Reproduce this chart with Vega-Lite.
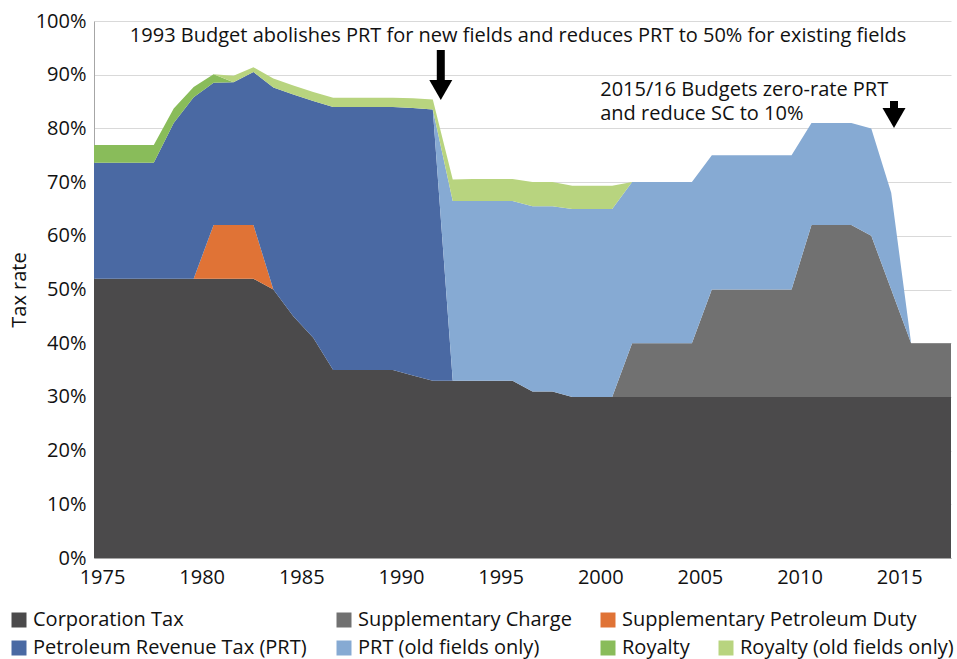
{
  "$schema": "https://vega.github.io/schema/vega-lite/v6.json",
  "width": 857,
  "height": 537,
  "autosize": {"type": "none"},
  "padding": {"left": 94, "top": 21, "right": 6, "bottom": 101},
  "background": "white",
  "config": {
    "font": "Open Sans",
    "view": {"stroke": null},
    "axis": {"labelFont": "Open Sans", "titleFont": "Open Sans", "labelColor": "#111111", "titleColor": "#111111"},
    "legend": {
      "symbolType": "square",
      "symbolSize": 225,
      "symbolStrokeWidth": 0,
      "labelFontSize": 20,
      "labelFont": "Open Sans",
      "labelColor": "#111111",
      "labelOffset": 4,
      "padding": 0,
      "labelLimit": 400
    }
  },
  "datasets": {
    "rates": [
      {"year": 1975, "Corporation Tax": 52, "Supplementary Charge": 0, "Supplementary Petroleum Duty": 0, "Petroleum Revenue Tax (PRT)": 21.6, "PRT (old fields only)": 0, "Royalty": 3.3, "Royalty (old fields only)": 0},
      {"year": 1976, "Corporation Tax": 52, "Supplementary Charge": 0, "Supplementary Petroleum Duty": 0, "Petroleum Revenue Tax (PRT)": 21.6, "PRT (old fields only)": 0, "Royalty": 3.3, "Royalty (old fields only)": 0},
      {"year": 1977, "Corporation Tax": 52, "Supplementary Charge": 0, "Supplementary Petroleum Duty": 0, "Petroleum Revenue Tax (PRT)": 21.6, "PRT (old fields only)": 0, "Royalty": 3.3, "Royalty (old fields only)": 0},
      {"year": 1978, "Corporation Tax": 52, "Supplementary Charge": 0, "Supplementary Petroleum Duty": 0, "Petroleum Revenue Tax (PRT)": 21.6, "PRT (old fields only)": 0, "Royalty": 3.3, "Royalty (old fields only)": 0},
      {"year": 1979, "Corporation Tax": 52, "Supplementary Charge": 0, "Supplementary Petroleum Duty": 0, "Petroleum Revenue Tax (PRT)": 29.0, "PRT (old fields only)": 0, "Royalty": 2.7, "Royalty (old fields only)": 0},
      {"year": 1980, "Corporation Tax": 52, "Supplementary Charge": 0, "Supplementary Petroleum Duty": 0, "Petroleum Revenue Tax (PRT)": 33.8, "PRT (old fields only)": 0, "Royalty": 1.9, "Royalty (old fields only)": 0},
      {"year": 1981, "Corporation Tax": 52, "Supplementary Charge": 0, "Supplementary Petroleum Duty": 10, "Petroleum Revenue Tax (PRT)": 26.5, "PRT (old fields only)": 0, "Royalty": 1.6, "Royalty (old fields only)": 0},
      {"year": 1982, "Corporation Tax": 52, "Supplementary Charge": 0, "Supplementary Petroleum Duty": 10, "Petroleum Revenue Tax (PRT)": 26.6, "PRT (old fields only)": 0, "Royalty": 0, "Royalty (old fields only)": 1.2},
      {"year": 1983, "Corporation Tax": 52, "Supplementary Charge": 0, "Supplementary Petroleum Duty": 10, "Petroleum Revenue Tax (PRT)": 28.5, "PRT (old fields only)": 0, "Royalty": 0, "Royalty (old fields only)": 0.9},
      {"year": 1984, "Corporation Tax": 50, "Supplementary Charge": 0, "Supplementary Petroleum Duty": 0, "Petroleum Revenue Tax (PRT)": 37.6, "PRT (old fields only)": 0, "Royalty": 0, "Royalty (old fields only)": 1.7},
      {"year": 1985, "Corporation Tax": 45, "Supplementary Charge": 0, "Supplementary Petroleum Duty": 0, "Petroleum Revenue Tax (PRT)": 41.3, "PRT (old fields only)": 0, "Royalty": 0, "Royalty (old fields only)": 1.7},
      {"year": 1986, "Corporation Tax": 41, "Supplementary Charge": 0, "Supplementary Petroleum Duty": 0, "Petroleum Revenue Tax (PRT)": 44.1, "PRT (old fields only)": 0, "Royalty": 0, "Royalty (old fields only)": 1.7},
      {"year": 1987, "Corporation Tax": 35, "Supplementary Charge": 0, "Supplementary Petroleum Duty": 0, "Petroleum Revenue Tax (PRT)": 49, "PRT (old fields only)": 0, "Royalty": 0, "Royalty (old fields only)": 1.7},
      {"year": 1988, "Corporation Tax": 35, "Supplementary Charge": 0, "Supplementary Petroleum Duty": 0, "Petroleum Revenue Tax (PRT)": 49, "PRT (old fields only)": 0, "Royalty": 0, "Royalty (old fields only)": 1.7},
      {"year": 1989, "Corporation Tax": 35, "Supplementary Charge": 0, "Supplementary Petroleum Duty": 0, "Petroleum Revenue Tax (PRT)": 49, "PRT (old fields only)": 0, "Royalty": 0, "Royalty (old fields only)": 1.7},
      {"year": 1990, "Corporation Tax": 35, "Supplementary Charge": 0, "Supplementary Petroleum Duty": 0, "Petroleum Revenue Tax (PRT)": 49, "PRT (old fields only)": 0, "Royalty": 0, "Royalty (old fields only)": 1.7},
      {"year": 1991, "Corporation Tax": 34, "Supplementary Charge": 0, "Supplementary Petroleum Duty": 0, "Petroleum Revenue Tax (PRT)": 49.8, "PRT (old fields only)": 0, "Royalty": 0, "Royalty (old fields only)": 1.8},
      {"year": 1992, "Corporation Tax": 33, "Supplementary Charge": 0, "Supplementary Petroleum Duty": 0, "Petroleum Revenue Tax (PRT)": 50.5, "PRT (old fields only)": 0, "Royalty": 0, "Royalty (old fields only)": 1.9},
      {"year": 1993, "Corporation Tax": 33, "Supplementary Charge": 0, "Supplementary Petroleum Duty": 0, "Petroleum Revenue Tax (PRT)": 0, "PRT (old fields only)": 33.5, "Royalty": 0, "Royalty (old fields only)": 4.0},
      {"year": 1994, "Corporation Tax": 33, "Supplementary Charge": 0, "Supplementary Petroleum Duty": 0, "Petroleum Revenue Tax (PRT)": 0, "PRT (old fields only)": 33.5, "Royalty": 0, "Royalty (old fields only)": 4.1},
      {"year": 1995, "Corporation Tax": 33, "Supplementary Charge": 0, "Supplementary Petroleum Duty": 0, "Petroleum Revenue Tax (PRT)": 0, "PRT (old fields only)": 33.5, "Royalty": 0, "Royalty (old fields only)": 4.1},
      {"year": 1996, "Corporation Tax": 33, "Supplementary Charge": 0, "Supplementary Petroleum Duty": 0, "Petroleum Revenue Tax (PRT)": 0, "PRT (old fields only)": 33.5, "Royalty": 0, "Royalty (old fields only)": 4.1},
      {"year": 1997, "Corporation Tax": 31, "Supplementary Charge": 0, "Supplementary Petroleum Duty": 0, "Petroleum Revenue Tax (PRT)": 0, "PRT (old fields only)": 34.5, "Royalty": 0, "Royalty (old fields only)": 4.5},
      {"year": 1998, "Corporation Tax": 31, "Supplementary Charge": 0, "Supplementary Petroleum Duty": 0, "Petroleum Revenue Tax (PRT)": 0, "PRT (old fields only)": 34.5, "Royalty": 0, "Royalty (old fields only)": 4.5},
      {"year": 1999, "Corporation Tax": 30, "Supplementary Charge": 0, "Supplementary Petroleum Duty": 0, "Petroleum Revenue Tax (PRT)": 0, "PRT (old fields only)": 35, "Royalty": 0, "Royalty (old fields only)": 4.3},
      {"year": 2000, "Corporation Tax": 30, "Supplementary Charge": 0, "Supplementary Petroleum Duty": 0, "Petroleum Revenue Tax (PRT)": 0, "PRT (old fields only)": 35, "Royalty": 0, "Royalty (old fields only)": 4.3},
      {"year": 2001, "Corporation Tax": 30, "Supplementary Charge": 0, "Supplementary Petroleum Duty": 0, "Petroleum Revenue Tax (PRT)": 0, "PRT (old fields only)": 35, "Royalty": 0, "Royalty (old fields only)": 4.3},
      {"year": 2002, "Corporation Tax": 30, "Supplementary Charge": 10, "Supplementary Petroleum Duty": 0, "Petroleum Revenue Tax (PRT)": 0, "PRT (old fields only)": 30, "Royalty": 0, "Royalty (old fields only)": 0},
      {"year": 2003, "Corporation Tax": 30, "Supplementary Charge": 10, "Supplementary Petroleum Duty": 0, "Petroleum Revenue Tax (PRT)": 0, "PRT (old fields only)": 30, "Royalty": 0, "Royalty (old fields only)": 0},
      {"year": 2004, "Corporation Tax": 30, "Supplementary Charge": 10, "Supplementary Petroleum Duty": 0, "Petroleum Revenue Tax (PRT)": 0, "PRT (old fields only)": 30, "Royalty": 0, "Royalty (old fields only)": 0},
      {"year": 2005, "Corporation Tax": 30, "Supplementary Charge": 10, "Supplementary Petroleum Duty": 0, "Petroleum Revenue Tax (PRT)": 0, "PRT (old fields only)": 30, "Royalty": 0, "Royalty (old fields only)": 0},
      {"year": 2006, "Corporation Tax": 30, "Supplementary Charge": 20, "Supplementary Petroleum Duty": 0, "Petroleum Revenue Tax (PRT)": 0, "PRT (old fields only)": 25, "Royalty": 0, "Royalty (old fields only)": 0},
      {"year": 2007, "Corporation Tax": 30, "Supplementary Charge": 20, "Supplementary Petroleum Duty": 0, "Petroleum Revenue Tax (PRT)": 0, "PRT (old fields only)": 25, "Royalty": 0, "Royalty (old fields only)": 0},
      {"year": 2008, "Corporation Tax": 30, "Supplementary Charge": 20, "Supplementary Petroleum Duty": 0, "Petroleum Revenue Tax (PRT)": 0, "PRT (old fields only)": 25, "Royalty": 0, "Royalty (old fields only)": 0},
      {"year": 2009, "Corporation Tax": 30, "Supplementary Charge": 20, "Supplementary Petroleum Duty": 0, "Petroleum Revenue Tax (PRT)": 0, "PRT (old fields only)": 25, "Royalty": 0, "Royalty (old fields only)": 0},
      {"year": 2010, "Corporation Tax": 30, "Supplementary Charge": 20, "Supplementary Petroleum Duty": 0, "Petroleum Revenue Tax (PRT)": 0, "PRT (old fields only)": 25, "Royalty": 0, "Royalty (old fields only)": 0},
      {"year": 2011, "Corporation Tax": 30, "Supplementary Charge": 32, "Supplementary Petroleum Duty": 0, "Petroleum Revenue Tax (PRT)": 0, "PRT (old fields only)": 19, "Royalty": 0, "Royalty (old fields only)": 0},
      {"year": 2012, "Corporation Tax": 30, "Supplementary Charge": 32, "Supplementary Petroleum Duty": 0, "Petroleum Revenue Tax (PRT)": 0, "PRT (old fields only)": 19, "Royalty": 0, "Royalty (old fields only)": 0},
      {"year": 2013, "Corporation Tax": 30, "Supplementary Charge": 32, "Supplementary Petroleum Duty": 0, "Petroleum Revenue Tax (PRT)": 0, "PRT (old fields only)": 19, "Royalty": 0, "Royalty (old fields only)": 0},
      {"year": 2014, "Corporation Tax": 30, "Supplementary Charge": 30, "Supplementary Petroleum Duty": 0, "Petroleum Revenue Tax (PRT)": 0, "PRT (old fields only)": 20, "Royalty": 0, "Royalty (old fields only)": 0},
      {"year": 2015, "Corporation Tax": 30, "Supplementary Charge": 20, "Supplementary Petroleum Duty": 0, "Petroleum Revenue Tax (PRT)": 0, "PRT (old fields only)": 18, "Royalty": 0, "Royalty (old fields only)": 0},
      {"year": 2016, "Corporation Tax": 30, "Supplementary Charge": 10, "Supplementary Petroleum Duty": 0, "Petroleum Revenue Tax (PRT)": 0, "PRT (old fields only)": 0, "Royalty": 0, "Royalty (old fields only)": 0},
      {"year": 2017, "Corporation Tax": 30, "Supplementary Charge": 10, "Supplementary Petroleum Duty": 0, "Petroleum Revenue Tax (PRT)": 0, "PRT (old fields only)": 0, "Royalty": 0, "Royalty (old fields only)": 0},
      {"year": 2018, "Corporation Tax": 30, "Supplementary Charge": 10, "Supplementary Petroleum Duty": 0, "Petroleum Revenue Tax (PRT)": 0, "PRT (old fields only)": 0, "Royalty": 0, "Royalty (old fields only)": 0}
    ],
    "notes": [
      {"x": 1976.8, "y": 97.2, "label": "1993 Budget abolishes PRT for new fields and reduces PRT to 50% for existing fields"}
    ],
    "notes2": [
      {"x": 2000.4, "y": 89.0, "label": "2015/16 Budgets zero-rate PRT\nand reduce SC to 10%"}
    ],
    "arrows": [
      {"x": 1992.4, "top": 94.6, "neck": 88.3, "head": 87.15},
      {"x": 2015.14, "top": 85.1, "neck": 83.0, "head": 81.94}
    ]
  },
  "encoding": {
    "x": {
      "field": "year",
      "type": "quantitative",
      "scale": {"domain": [1975, 2018], "nice": false, "zero": false},
      "axis": {
        "title": null,
        "values": [1975, 1980, 1985, 1990, 1995, 2000, 2005, 2010, 2015],
        "format": "d",
        "grid": false,
        "ticks": false,
        "labelOffset": 8,
        "labelPadding": 9,
        "labelFontSize": 20,
        "domainColor": "#A6A6A6",
        "labelFlush": false
      }
    }
  },
  "layer": [
    {
      "data": {"name": "rates"},
      "transform": [
        {"fold": ["Corporation Tax", "Supplementary Charge", "Supplementary Petroleum Duty", "Petroleum Revenue Tax (PRT)", "PRT (old fields only)", "Royalty", "Royalty (old fields only)"], "as": ["tax", "rate"]},
        {"calculate": "indexof(['Corporation Tax', 'Supplementary Charge', 'Supplementary Petroleum Duty', 'Petroleum Revenue Tax (PRT)', 'PRT (old fields only)', 'Royalty', 'Royalty (old fields only)'], datum.tax)", "as": "ord"},
        {"stack": "rate", "groupby": ["year"], "sort": [{"field": "ord", "order": "ascending"}], "as": ["r0", "r1"]}
      ],
      "encoding": {
        "y": {
          "field": "r1",
          "type": "quantitative",
          "scale": {"domain": [0, 100], "nice": false},
          "axis": {
            "title": "Tax rate",
            "titleFontSize": 20,
            "titleFontWeight": "normal",
            "titlePadding": 6,
            "values": [0, 10, 20, 30, 40, 50, 60, 70, 80, 90, 100],
            "labelExpr": "datum.value + '%'",
            "labelFontSize": 20,
            "labelPadding": 8,
            "ticks": false,
            "grid": true,
            "gridColor": "#D9D9D9",
            "gridWidth": 1,
            "domainColor": "#A6A6A6"
          }
        },
        "y2": {"field": "r0"}
      },
      "layer": [
        {
          "transform": [{"filter": "datum.tax === 'Corporation Tax'"}],
          "mark": {"type": "area", "interpolate": "linear"},
          "encoding": {"color": {"field": "tax", "type": "nominal", "scale": {"domain": ["Corporation Tax"], "range": ["#4B4A4B"]}, "legend": {"title": null, "orient": "none", "legendX": -85, "legendY": 589}}}
        },
        {
          "transform": [{"filter": "datum.tax === 'Supplementary Charge'"}],
          "mark": {"type": "area", "interpolate": "linear"},
          "encoding": {"color": {"field": "tax", "type": "nominal", "scale": {"domain": ["Supplementary Charge"], "range": ["#717171"]}, "legend": {"title": null, "orient": "none", "legendX": 240, "legendY": 589}}}
        },
        {
          "transform": [{"filter": "datum.tax === 'Supplementary Petroleum Duty'"}],
          "mark": {"type": "area", "interpolate": "linear"},
          "encoding": {"color": {"field": "tax", "type": "nominal", "scale": {"domain": ["Supplementary Petroleum Duty"], "range": ["#E07336"]}, "legend": {"title": null, "orient": "none", "legendX": 504, "legendY": 589}}}
        },
        {
          "transform": [{"filter": "datum.tax === 'Petroleum Revenue Tax (PRT)'"}],
          "mark": {"type": "area", "interpolate": "linear"},
          "encoding": {"color": {"field": "tax", "type": "nominal", "scale": {"domain": ["Petroleum Revenue Tax (PRT)"], "range": ["#4A69A3"]}, "legend": {"title": null, "orient": "none", "legendX": -85, "legendY": 617}}}
        },
        {
          "transform": [{"filter": "datum.tax === 'PRT (old fields only)'"}],
          "mark": {"type": "area", "interpolate": "linear"},
          "encoding": {"color": {"field": "tax", "type": "nominal", "scale": {"domain": ["PRT (old fields only)"], "range": ["#86AAD3"]}, "legend": {"title": null, "orient": "none", "legendX": 240, "legendY": 617}}}
        },
        {
          "transform": [{"filter": "datum.tax === 'Royalty'"}],
          "mark": {"type": "area", "interpolate": "linear"},
          "encoding": {"color": {"field": "tax", "type": "nominal", "scale": {"domain": ["Royalty"], "range": ["#89BC5A"]}, "legend": {"title": null, "orient": "none", "legendX": 504, "legendY": 617}}}
        },
        {
          "transform": [{"filter": "datum.tax === 'Royalty (old fields only)'"}],
          "mark": {"type": "area", "interpolate": "linear"},
          "encoding": {"color": {"field": "tax", "type": "nominal", "scale": {"domain": ["Royalty (old fields only)"], "range": ["#B8D47F"]}, "legend": {"title": null, "orient": "none", "legendX": 622, "legendY": 617}}}
        }
      ],
      "resolve": {"scale": {"color": "independent"}}
    },
    {
      "data": {"name": "notes"},
      "mark": {"type": "text", "align": "left", "baseline": "middle", "fontSize": 20, "font": "Open Sans", "color": "#111111"},
      "encoding": {
        "x": {"field": "x", "type": "quantitative"},
        "y": {"field": "y", "type": "quantitative"},
        "text": {"field": "label"}
      }
    },
    {
      "data": {"name": "notes2"},
      "mark": {"type": "text", "align": "left", "baseline": "top", "lineBreak": "\n", "lineHeight": 24, "fontSize": 20, "font": "Open Sans", "color": "#111111"},
      "encoding": {
        "x": {"field": "x", "type": "quantitative"},
        "y": {"field": "y", "type": "quantitative"},
        "text": {"field": "label"}
      }
    },
    {
      "data": {"name": "arrows"},
      "mark": {"type": "rule", "strokeWidth": 8, "color": "#000000"},
      "encoding": {
        "x": {"field": "x", "type": "quantitative"},
        "y": {"field": "top", "type": "quantitative"},
        "y2": {"field": "neck"}
      }
    },
    {
      "data": {"name": "arrows"},
      "mark": {"type": "point", "shape": "triangle-down", "filled": true, "size": 529, "color": "#000000", "opacity": 1, "strokeWidth": 0},
      "encoding": {
        "x": {"field": "x", "type": "quantitative"},
        "y": {"field": "head", "type": "quantitative"}
      }
    }
  ],
  "resolve": {"scale": {"color": "independent"}}
}
